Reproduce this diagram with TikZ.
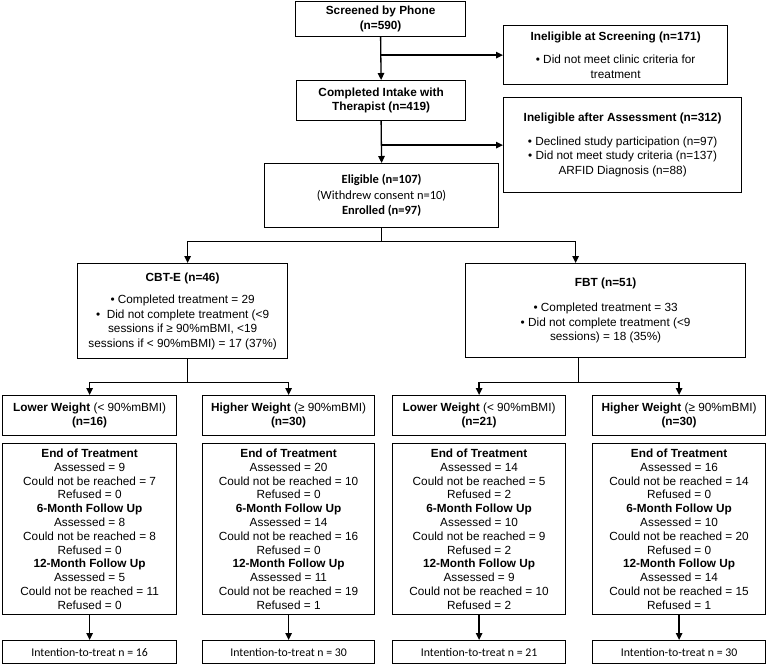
\documentclass[tikz,border=0pt]{standalone}
\usepackage{fontspec}
\setmainfont{Liberation Sans}
\newfontfamily\calibri{Carlito}
\usepackage{tikz}
\usetikzlibrary{arrows.meta}
\tikzset{
  flowbox/.style={draw, line width=1.2pt, anchor=north west, inner sep=0pt,
    align=center, font=\fontsize{11.8}{14.5}\selectfont},
  countbox/.style={flowbox, font=\fontsize{11.8}{13.8}\selectfont},
  calbox/.style={flowbox, font=\calibri\fontsize{12.5}{15.5}\selectfont},
  ittbox/.style={flowbox, font=\calibri\fontsize{11.8}{14}\selectfont},
  flowline/.style={line width=1.3pt},
  flowarrow/.style={line width=1.3pt, -{Triangle[length=7pt,width=6.5pt]}}
}

\begin{document}
\begin{tikzpicture}[x=1pt,y=-1pt]
    \useasboundingbox (0,0) rectangle (767,664);

    % Screening and intake
    \node[flowbox,minimum width=170pt,minimum height=35pt] (screen) at (295,1)
        {\textbf{Screened by Phone}\\\textbf{(n=590)}};
    \node[flowbox,minimum width=224pt,minimum height=59pt] (inelscr) at (503,25)
        {\textbf{Ineligible at Screening (n=171)}\\[9pt]
         • Did not meet clinic criteria for\\treatment};
    \node[flowbox,minimum width=169pt,minimum height=40pt] (intake) at (296,80)
        {\textbf{Completed Intake with}\\\textbf{Therapist (n=419)}};
    \node[flowbox,minimum width=238pt,minimum height=95pt] (inelass) at (503,97)
        {\textbf{Ineligible after Assessment (n=312)}\\[9pt]
         • Declined study participation (n=97)\\
         • Did not meet study criteria (n=137)\\
         ARFID Diagnosis (n=88)};
    \node[calbox,minimum width=234pt,minimum height=64pt] (elig) at (264,163)
        {\textbf{Eligible (n=107)}\\(Withdrew consent n=10)\\\textbf{Enrolled (n=97)}};

    % Treatment arms
    \node[flowbox,minimum width=210pt,minimum height=95pt] (cbte) at (77,263)
        {\textbf{CBT-E (n=46)}\\[8pt]
         • Completed treatment = 29\\
         •\ \ Did not complete treatment (<9\\
         sessions if ≥ 90\%mBMI, <19\\
         sessions if < 90\%mBMI) = 17 (37\%)};
    \node[flowbox,minimum width=280pt,minimum height=94pt] (fbt) at (465,263)
        {\textbf{FBT (n=51)}\\[11pt]
         • Completed treatment = 33\\
         • Did not complete treatment (<9\\
         sessions) = 18 (35\%)};

    % Weight groups
    \node[flowbox,minimum width=174pt,minimum height=40pt] (lwcbt) at (2,395)
        {\textbf{Lower Weight} (< 90\%mBMI)\\\textbf{(n=16)}};
    \node[flowbox,minimum width=172pt,minimum height=40pt] (hwcbt) at (202,395)
        {\textbf{Higher Weight} (≥ 90\%mBMI)\\\textbf{(n=30)}};
    \node[flowbox,minimum width=173pt,minimum height=40pt] (lwfbt) at (392,395)
        {\textbf{Lower Weight} (< 90\%mBMI)\\\textbf{(n=21)}};
    \node[flowbox,minimum width=173pt,minimum height=40pt] (hwfbt) at (592,395)
        {\textbf{Higher Weight} (≥ 90\%mBMI)\\\textbf{(n=30)}};

    % Assessment counts
    \node[countbox,minimum width=174pt,minimum height=171pt] (dlwcbt) at (2,443)
        {\textbf{End of Treatment}\\Assessed = 9\\Could not be reached = 7\\Refused = 0\\
         \textbf{6-Month Follow Up}\\Assessed = 8\\Could not be reached = 8\\Refused = 0\\
         \textbf{12-Month Follow Up}\\Assessed = 5\\Could not be reached = 11\\Refused = 0};
    \node[countbox,minimum width=172pt,minimum height=171pt] (dhwcbt) at (202,443)
        {\textbf{End of Treatment}\\Assessed = 20\\Could not be reached = 10\\Refused = 0\\
         \textbf{6-Month Follow Up}\\Assessed = 14\\Could not be reached = 16\\Refused = 0\\
         \textbf{12-Month Follow Up}\\Assessed = 11\\Could not be reached = 19\\Refused = 1};
    \node[countbox,minimum width=173pt,minimum height=171pt] (dlwfbt) at (392,443)
        {\textbf{End of Treatment}\\Assessed = 14\\Could not be reached = 5\\Refused = 2\\
         \textbf{6-Month Follow Up}\\Assessed = 10\\Could not be reached = 9\\Refused = 2\\
         \textbf{12-Month Follow Up}\\Assessed = 9\\Could not be reached = 10\\Refused = 2};
    \node[countbox,minimum width=173pt,minimum height=171pt] (dhwfbt) at (592,443)
        {\textbf{End of Treatment}\\Assessed = 16\\Could not be reached = 14\\Refused = 0\\
         \textbf{6-Month Follow Up}\\Assessed = 10\\Could not be reached = 20\\Refused = 0\\
         \textbf{12-Month Follow Up}\\Assessed = 14\\Could not be reached = 15\\Refused = 1};

    % Intention-to-treat
    \node[ittbox,minimum width=174pt,minimum height=23pt] (ittlwcbt) at (2,640) {Intention-to-treat n = 16};
    \node[ittbox,minimum width=172pt,minimum height=23pt] (itthwcbt) at (202,640) {Intention-to-treat n = 30};
    \node[ittbox,minimum width=173pt,minimum height=23pt] (ittlwfbt) at (392,640) {Intention-to-treat n = 21};
    \node[ittbox,minimum width=173pt,minimum height=23pt] (itthwfbt) at (592,640) {Intention-to-treat n = 30};

    % Connectors
    \draw[flowarrow] (screen.south) -- (intake.north);
    \draw[flowarrow] (screen.south |- inelscr.west) -- (inelscr.west);
    \draw[flowarrow] (intake.south) -- (elig.north);
    \draw[flowarrow] (intake.south |- inelass.west) -- (inelass.west);

    \draw[flowline] (elig.south) -- ++(0,13) coordinate (armsplit);
    \draw[flowarrow] (armsplit) -| ([xshift=5pt]cbte.north);
    \draw[flowarrow] (armsplit) -| ([xshift=-30pt]fbt.north);

    \draw[flowline] ([xshift=5pt]cbte.south) -- ++(0,23) coordinate (cbtsplit);
    \draw[flowarrow] (cbtsplit) -| (lwcbt.north);
    \draw[flowarrow] (cbtsplit) -| (hwcbt.north);
    \draw[flowline] ([xshift=-27pt]fbt.south) -- ++(0,24) coordinate (fbtsplit);
    \draw[flowarrow] (fbtsplit) -| (lwfbt.north);
    \draw[flowarrow] (fbtsplit) -| (hwfbt.north);

    \draw[flowarrow] (dlwcbt.south) -- (ittlwcbt.north);
    \draw[flowarrow] (dhwcbt.south) -- (itthwcbt.north);
    \draw[flowarrow] (dlwfbt.south) -- (ittlwfbt.north);
    \draw[flowarrow] (dhwfbt.south) -- (itthwfbt.north);
\end{tikzpicture}
\end{document}
